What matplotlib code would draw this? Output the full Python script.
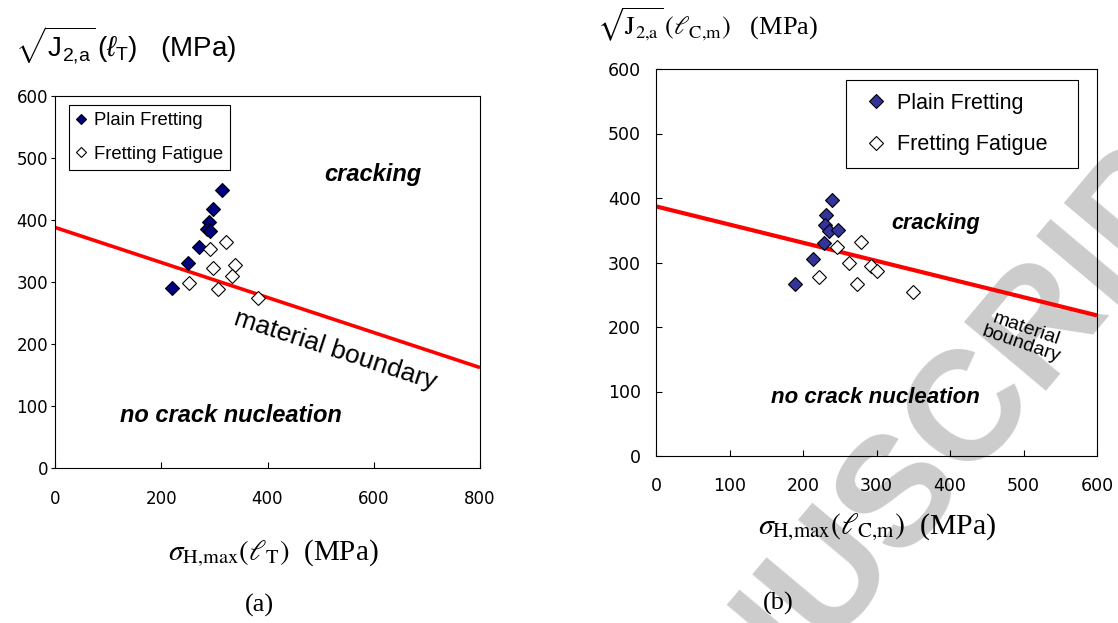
import matplotlib
matplotlib.use('Agg')
import matplotlib.pyplot as plt
from matplotlib.lines import Line2D
from matplotlib.font_manager import FontProperties

plt.rcParams['mathtext.fontset'] = 'custom'
plt.rcParams['mathtext.rm'] = 'Liberation Sans'
plt.rcParams['mathtext.it'] = 'Liberation Sans:italic'
plt.rcParams['mathtext.bf'] = 'Liberation Sans:bold'

# ---------------- data ----------------
# panel (a)
a_plain_x = [314, 297, 289, 286, 291, 271, 251, 220]
a_plain_y = [449, 417, 397, 386, 382, 357, 331, 290]
a_ff_x = [321, 291, 297, 339, 334, 253, 306, 382]
a_ff_y = [364, 353, 322, 327, 310, 299, 288, 275]
a_line_x = [0, 800]
a_line_y = [388, 162]
a_xticks = [0, 200, 400, 600, 800]
a_yticks = [0, 100, 200, 300, 400, 500, 600]

# panel (b)
b_plain_x = [240, 231, 230, 236, 248, 228, 213, 189]
b_plain_y = [397, 373, 358, 349, 351, 331, 306, 267]
b_ff_x = [279, 246, 263, 293, 301, 222, 273, 349]
b_ff_y = [332, 324, 300, 295, 287, 278, 266, 255]
b_line_x = [0, 600]
b_line_y = [387, 218]
b_xticks = [0, 100, 200, 300, 400, 500, 600]
b_yticks = [0, 100, 200, 300, 400, 500, 600]

labels = ['Plain Fretting', 'Fretting Fatigue']

W, H = 1118, 623
fig = plt.figure(figsize=(W / 100, H / 100), dpi=100)


def fx(x):
    return x / W


def fy(y):
    return 1 - y / H


SANS = 'Liberation Sans'
SERIF = 'Liberation Serif'
TICKFONT = 'DejaVu Sans'

# watermark
fig.text(fx(900), fy(490), 'MANUSCRIPT', fontsize=112, fontweight='bold',
         family=SANS, color='#cccccc', rotation=50, ha='center', va='center',
         zorder=-5)

# ---------------- panel (a) ----------------
axA = fig.add_axes([fx(55), fy(468), (480 - 55) / W, (468 - 96) / H])
axA.set_facecolor('none')
axA.plot(a_line_x, a_line_y, color='#ff0000', lw=2.6, zorder=2, solid_capstyle='butt')
axA.plot(a_plain_x, a_plain_y, ls='none', marker='D', ms=6.8, mfc='#000080',
         mec='black', mew=0.8, zorder=3)
axA.plot(a_ff_x, a_ff_y, ls='none', marker='D', ms=6.8, mfc='white',
         mec='black', mew=0.8, zorder=3)
axA.set_xlim(0, 800)
axA.set_ylim(0, 600)
axA.set_xticks(a_xticks)
axA.set_yticks(a_yticks)
axA.tick_params(axis='x', direction='in', length=4, width=0.8, pad=16,
                labelsize=12, labelfontfamily=TICKFONT)
axA.tick_params(axis='y', direction='out', length=3, width=0.8, pad=2,
                labelsize=12, labelfontfamily=TICKFONT)
for s in axA.spines.values():
    s.set_linewidth(0.8)
    s.set_color('black')

hA = [Line2D([], [], ls='none', marker='D', ms=5, mfc='#000080', mec='black', mew=0.8),
      Line2D([], [], ls='none', marker='D', ms=5, mfc='white', mec='black', mew=0.8)]
legA = axA.legend(hA, labels, loc='upper left', bbox_to_anchor=(0.033, 0.976),
                  frameon=True, fancybox=False, edgecolor='black', framealpha=1,
                  borderpad=0.4, handlelength=0.5, handletextpad=0.45,
                  labelspacing=0.9, borderaxespad=0,
                  prop=FontProperties(family=SANS, size=13.3))
legA.get_frame().set_linewidth(0.8)

axA.text(599, 473, 'cracking', fontsize=17, fontweight='bold', style='italic',
         family=SANS, ha='center', va='center')
axA.text(331, 85, 'no crack nucleation', fontsize=17, fontweight='bold',
         style='italic', family=SANS, ha='center', va='center')
axA.text(527, 190, 'material boundary', fontsize=19, family=SANS,
         rotation=-18, rotation_mode='anchor', ha='center', va='center')

fig.text(fx(15), fy(45), r'$\sqrt{\mathrm{J}_{2{,}\mathrm{a}}}\,(\ell_{\mathrm{T}})$   (MPa)',
         fontsize=20, family=SANS, ha='left', va='center')
fig.text(fx(273), fy(553), r'$\sigma_{\mathrm{H{,}max}}\left(\ell_{\mathrm{T}}\right)$  (MPa)',
         fontsize=21, family=SERIF, math_fontfamily='stix', ha='center', va='center')
fig.text(fx(259), fy(605), '(a)', fontsize=19, family=SERIF, ha='center', va='center')

# ---------------- panel (b) ----------------
axB = fig.add_axes([fx(656), fy(456), (1097 - 656) / W, (456 - 69) / H])
axB.set_facecolor('none')
axB.plot(b_line_x, b_line_y, color='#ff0000', lw=3.0, zorder=2, solid_capstyle='butt')
axB.plot(b_plain_x, b_plain_y, ls='none', marker='D', ms=7.6, mfc='#333399',
         mec='black', mew=0.8, zorder=3)
axB.plot(b_ff_x, b_ff_y, ls='none', marker='D', ms=7.6, mfc='white',
         mec='black', mew=0.8, zorder=3)
axB.set_xlim(0, 600)
axB.set_ylim(0, 600)
axB.set_xticks(b_xticks)
axB.set_yticks(b_yticks)
axB.tick_params(axis='x', direction='in', length=4, width=0.8, pad=15,
                labelsize=12.5, labelfontfamily=TICKFONT)
axB.tick_params(axis='y', direction='in', length=4, width=0.8, pad=11,
                labelsize=12.5, labelfontfamily=TICKFONT)
for s in axB.spines.values():
    s.set_linewidth(0.8)
    s.set_color('black')

hB = [Line2D([], [], ls='none', marker='D', ms=7.6, mfc='#333399', mec='black', mew=0.8),
      Line2D([], [], ls='none', marker='D', ms=7.6, mfc='white', mec='black', mew=0.8)]
legB = axB.legend(hB, labels, loc='upper left',
                  bbox_to_anchor=(0.431, 0.0, 0.526, 0.972), mode='expand',
                  frameon=True, fancybox=False, edgecolor='black', framealpha=1,
                  borderpad=0.6, handlelength=1.6, handletextpad=0.15,
                  labelspacing=0.95, borderaxespad=0,
                  prop=FontProperties(family=SANS, size=15.5))
legB.get_frame().set_linewidth(0.8)

axB.text(380, 360, 'cracking', fontsize=15.5, fontweight='bold', style='italic',
         family=SANS, ha='center', va='center')
axB.text(299, 90, 'no crack nucleation', fontsize=16, fontweight='bold',
         style='italic', family=SANS, ha='center', va='center')
axB.text(500, 185, 'material\nboundary', fontsize=14, family=SANS, linespacing=1.0,
         rotation=-19, rotation_mode='anchor', ha='center', va='center',
         multialignment='center')

fig.text(fx(597), fy(25), r'$\sqrt{\mathrm{J}_{2{,}\mathrm{a}}}\,(\ell_{\mathrm{C{,}m}})$   (MPa)',
         fontsize=19, family=SERIF, math_fontfamily='stix', ha='left', va='center')
fig.text(fx(877), fy(527), r'$\sigma_{\mathrm{H{,}max}}\left(\ell_{\mathrm{C{,}m}}\right)$  (MPa)',
         fontsize=21.5, family=SERIF, math_fontfamily='stix', ha='center', va='center')
fig.text(fx(778), fy(603), '(b)', fontsize=19, family=SERIF, ha='center', va='center')

fig.savefig('out.png', dpi=100)
